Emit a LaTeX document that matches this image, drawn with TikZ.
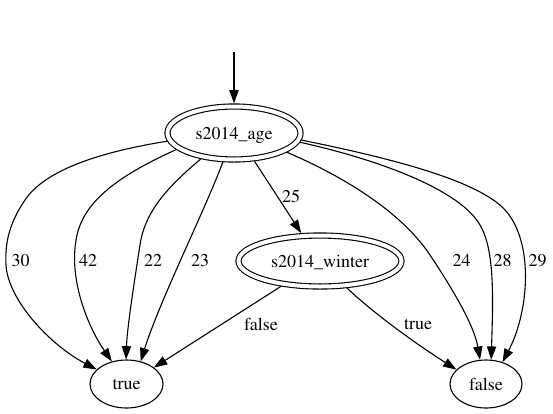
\documentclass[tikz,border=0pt]{standalone}
\usepackage[T1]{fontenc}
\renewcommand{\rmdefault}{ptm}
\usetikzlibrary{shapes.geometric,arrows.meta}
\begin{document}
\begin{tikzpicture}[x=1pt,y=-1pt,
  every node/.style={font=\rmfamily\fontsize{18}{20}\selectfont},
  state/.style={ellipse, draw, line width=1.1pt, inner sep=0pt, text depth=0pt},
  dstate/.style={state, double, double distance=4pt, outer sep=3.1pt},
  edge/.style={line width=1.1pt, -{Triangle[length=13.3pt,width=9.3pt]}},
  lbl/.style={inner sep=0pt, text depth=0pt}]
\useasboundingbox (0,0) rectangle (553,413);
\node[dstate, minimum width=133pt, minimum height=53pt] (age) at (234,133) {s2014\_age};
\node[dstate, minimum width=163pt, minimum height=51pt] (winter) at (320,261) {s2014\_winter};
\node[state, minimum width=73pt, minimum height=48pt] (t) at (126.5,384) {true};
\node[state, minimum width=72pt, minimum height=48pt] (f) at (486,384) {false};
\coordinate (start) at (234,52);

\draw[edge] (start) -- (age);

\draw[edge] (age.187.7) .. controls (100,152) and (45,170) .. (25,200)
  .. controls (8,225) and (5,245) .. (6,265)
  .. controls (8,300) and (50,345) .. (t.154.6);
\draw[edge] (age.196.6) .. controls (120,175) and (85,200) .. (77,235)
  .. controls (67,280) and (90,330) .. (t.123.4);
\draw[edge] (age.218.5) .. controls (170,185) and (145,210) .. (140,245)
  .. controls (133,290) and (127,330) .. (t.91);
\draw[edge] (age.249) .. controls (205,210) and (160,300) .. (t.58.8);
\draw[edge] (age.306) -- (winter.124.6);
\draw[edge] (winter.213) -- (t.31.9);
\draw[edge] (winter.315) .. controls (370,310) and (410,340) .. (f.154);
\draw[edge] (age.340.3) .. controls (340,175) and (400,210) .. (430,255)
  .. controls (460,300) and (475,330) .. (f.104);
\draw[edge] (age.352) .. controls (380,160) and (460,190) .. (480,225)
  .. controls (495,250) and (493,300) .. (f.78);
\draw[edge] (age.354) .. controls (400,160) and (470,180) .. (500,205)
  .. controls (535,235) and (530,310) .. (f.53);

\node[lbl] (l30) at (20.5,260) {30};
\node[lbl] (l42) at (88,260) {42};
\node[lbl] (l22) at (153,260) {22};
\node[lbl] (l23) at (200,260) {23};
\node[lbl] (l25) at (291,196) {25};
\node[lbl] (lfalse) at (261,324) {false};
\node[lbl] (ltrue) at (418,324) {true};
\node[lbl] (l24) at (461.5,260) {24};
\node[lbl] (l28) at (502.5,260) {28};
\node[lbl] (l29) at (537.5,260) {29};
\end{tikzpicture}
\end{document}
